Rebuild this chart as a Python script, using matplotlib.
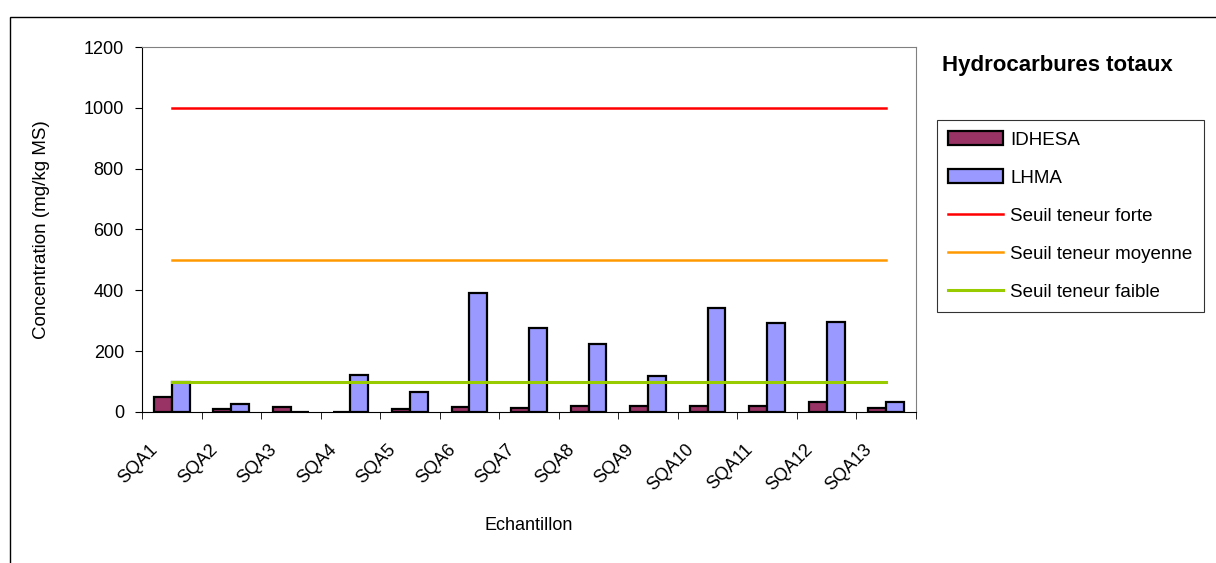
import matplotlib.pyplot as plt
from matplotlib.patches import Rectangle
import numpy as np

plt.rcParams['font.family'] = ['Liberation Sans', 'DejaVu Sans']

samples = ['SQA1', 'SQA2', 'SQA3', 'SQA4', 'SQA5', 'SQA6', 'SQA7',
           'SQA8', 'SQA9', 'SQA10', 'SQA11', 'SQA12', 'SQA13']
idhesa = [50, 11, 17, 0, 11, 17, 14, 20, 20, 20, 20, 33, 14]
lhma = [97, 25, 0, 123, 65, 390, 276, 225, 118, 342, 291, 296, 33]
seuil_forte = 1000
seuil_moyenne = 500
seuil_faible = 100

fig = plt.figure(figsize=(12.16, 5.63), dpi=100)
ax = fig.add_axes([142 / 1216, 1 - 412 / 563, (916 - 142) / 1216, (412 - 47) / 563])

x = np.arange(len(samples))
w = 0.3
b1 = ax.bar(x - w / 2, idhesa, w, color='#993366', edgecolor='black', linewidth=1.6,
            label='IDHESA', zorder=2)
b2 = ax.bar(x + w / 2, lhma, w, color='#9999FF', edgecolor='black', linewidth=1.6,
            label='LHMA', zorder=2)

l1, = ax.plot([x[0], x[-1]], [seuil_forte] * 2, color='#FF0000', lw=1.8,
              label='Seuil teneur forte', zorder=3)
l2, = ax.plot([x[0], x[-1]], [seuil_moyenne] * 2, color='#FF9900', lw=1.8,
              label='Seuil teneur moyenne', zorder=3)
l3, = ax.plot([x[0], x[-1]], [seuil_faible] * 2, color='#99CC00', lw=2.2,
              label='Seuil teneur faible', zorder=3)

ax.set_xlim(-0.5, len(samples) - 0.5)
ax.set_ylim(0, 1200)
ax.set_yticks(range(0, 1201, 200))
# labels sit a little left of the category centre, like the original
ax.set_xticks(x - 0.38)
ax.set_xticklabels(samples, rotation=45, ha='right', va='top',
                   rotation_mode='anchor', fontsize=13)
ax.set_xticks(np.arange(-0.5, len(samples), 1), minor=True)
ax.tick_params(axis='x', which='major', length=0, pad=21)
ax.tick_params(axis='x', which='minor', length=5, direction='out', color='black')
ax.tick_params(axis='y', length=5, direction='out', labelsize=13, pad=8)

for s in ['top', 'right']:
    ax.spines[s].set_color('#808080')
ax.spines['left'].set_color('black')
ax.spines['bottom'].set_color('black')

ax.set_xlabel('Echantillon', fontsize=13)
ax.xaxis.set_label_coords(0.5, (412 - 517) / 365)
ax.set_ylabel('Concentration (mg/kg MS)', fontsize=13.5)
ax.yaxis.set_label_coords((50 - 142) / 774, 0.5)

fig.text(942 / 1216, 1 - 66 / 563, 'Hydrocarbures totaux', fontsize=16, fontweight='bold',
         ha='left', va='center')

leg = fig.legend([b1, b2, l1, l2, l3],
                 ['IDHESA', 'LHMA', 'Seuil teneur forte', 'Seuil teneur moyenne',
                  'Seuil teneur faible'],
                 loc='upper left', bbox_to_anchor=(937 / 1216, 1 - 120 / 563),
                 frameon=True, fancybox=False, edgecolor='black', fontsize=13.5,
                 handlelength=2.9, handleheight=0.75, labelspacing=1.1,
                 borderaxespad=0, handletextpad=0.4, borderpad=0.6)
leg.get_frame().set_linewidth(0.8)

# outer chart frame
fig.patches.append(Rectangle((10 / 1216, -0.1), 1.2, 1 - 17 / 563 + 0.1,
                             transform=fig.transFigure, fill=False,
                             edgecolor='black', linewidth=1))

fig.savefig('out.png', dpi=100)
